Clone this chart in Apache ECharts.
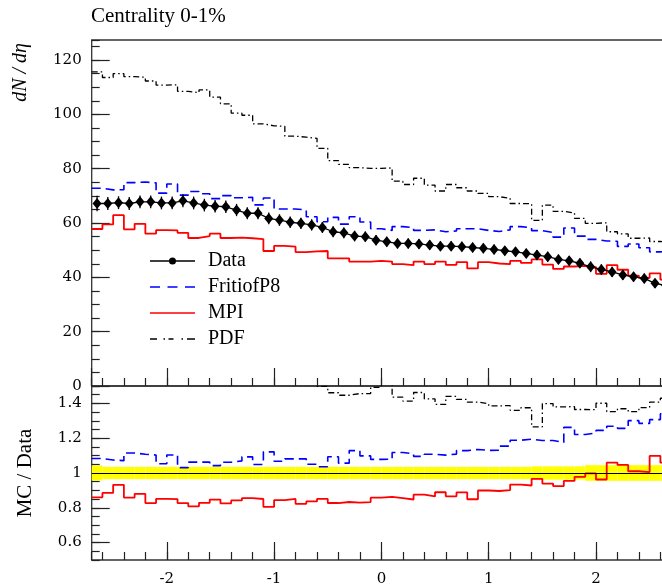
<!DOCTYPE html>
<html><head><meta charset="utf-8">
<script src="https://cdn.jsdelivr.net/npm/echarts@6/dist/echarts.min.js"></script>
<style>html,body{margin:0;padding:0;background:#fff}#c{width:662px;height:586px}</style>
</head><body><div id="c"></div>
<script>
// bin edges in eta (54 bins of width 0.1)
const etaEdges = [-2.7,-2.6,-2.5,-2.4,-2.3,-2.2,-2.1,-2.0,-1.9,-1.8,-1.7,-1.6,-1.5,-1.4,-1.3,-1.2,-1.1,-1.0,-0.9,-0.8,-0.7,-0.6,-0.5,-0.4,-0.3,-0.2,-0.1,0.0,0.1,0.2,0.3,0.4,0.5,0.6,0.7,0.8,0.9,1.0,1.1,1.2,1.3,1.4,1.5,1.6,1.7,1.8,1.9,2.0,2.1,2.2,2.3,2.4,2.5,2.6,2.7];
// measured dN/deta (Data)
const dataVals = [67.2,67.2,67.5,67.2,67.8,67.8,67.4,67.4,68.2,67.4,
  66.6,66.2,66.0,64.8,63.6,63.6,61.7,61.1,60.3,59.9,
  59.3,58.4,56.8,56.4,55.2,55.0,53.7,53.1,52.5,52.5,
  52.3,51.9,51.5,51.5,51.3,51.0,50.7,50.3,49.8,49.4,
  48.8,48.2,47.6,46.6,46.1,45.2,43.9,42.9,42.0,40.9,
  40.2,39.6,37.8,37.0];
// relative uncertainty of data (yellow band)
const dataRelErr = [0.043,0.035,0.035,0.035,0.035,0.035,0.035,0.035,0.035,0.035,
  0.035,0.035,0.035,0.035,0.035,0.035,0.035,0.035,0.035,0.035,
  0.035,0.035,0.035,0.035,0.035,0.035,0.035,0.035,0.035,0.035,
  0.035,0.035,0.035,0.035,0.035,0.035,0.035,0.035,0.035,0.035,
  0.035,0.038,0.038,0.038,0.038,0.038,0.045,0.045,0.045,0.045,
  0.045,0.045,0.045,0.045];
const fritiofP8 = [72.8,72.2,72.3,74.9,75.1,74.8,71.0,74.4,70.3,71.6,
  70.8,69.0,70.1,69.3,69.5,66.7,69.2,65.2,65.2,64.8,
  62.3,60.5,62.1,59.6,62.3,60.4,57.9,57.3,58.7,58.3,
  57.3,57.5,56.8,57.1,57.9,57.9,57.3,56.9,57.5,58.7,
  58.3,57.2,56.5,54.8,58.2,55.2,54.0,53.4,53.3,51.4,
  52.3,50.9,49.4,49.6];
const mpi = [57.8,59.5,62.9,57.7,59.7,56.1,57.4,57.3,56.4,54.5,
  55.2,56.1,54.5,54.6,54.4,54.1,49.7,51.6,51.3,49.3,
  49.6,49.7,47.0,47.0,45.8,45.8,46.1,45.8,44.9,44.5,
  45.8,44.9,45.8,44.6,45.6,43.3,45.6,45.1,44.9,46.1,
  45.3,46.6,44.7,43.1,44.0,44.2,43.8,41.3,44.5,42.8,
  40.6,39.8,41.5,39.2];
const pdf = [115.7,113.6,115.0,113.9,113.7,112.3,110.8,110.9,108.5,108.0,
  109.0,106.4,103.9,100.5,99.7,96.5,95.8,95.6,92.0,91.6,
  91.2,87.5,83.0,81.6,80.4,80.1,80.1,80.3,75.4,74.2,
  76.5,74.0,71.8,74.2,73.0,71.8,70.9,69.7,69.1,67.2,
  67.1,61.0,66.6,64.3,63.7,61.7,59.9,60.1,56.8,56.0,
  54.4,54.5,53.2,52.9];
const legendNames = ['Data','FritiofP8','MPI','PDF'];
const titleText = 'Centrality 0-1%';
const yTitleMain = 'dN / dη';
const yTitleRatio = 'MC / Data';

const centers = dataVals.map((v,i)=> (etaEdges[i]+etaEdges[i+1])/2);
function stepData(vals){ const d = vals.map((v,i)=>[etaEdges[i], v]); d.push([etaEdges[vals.length], vals[vals.length-1]]); return d; }
function ratio(vals){ return vals.map((v,i)=> v/dataVals[i]); }

const SERIF = 'Liberation Serif';
const TICKF = 'DejaVu Serif';
const GL = 91.7, GW = 579.4;
const axCol = '#222';

function xMajor(grid, labels){
  return {gridIndex:grid, type:'value', min:-2.7, max:2.7, minInterval:1, maxInterval:1, position:'bottom',
    axisLine:{show:false, onZero:false}, splitLine:{show:false},
    axisTick:{show:true, inside:true, length:18, lineStyle:{color:axCol, width:1.2}},
    axisLabel:{show:labels, showMinLabel:false, showMaxLabel:false, margin:12, color:'#000', fontFamily:TICKF, fontSize:15}};
}
function xMinor(grid){
  return {gridIndex:grid, type:'value', min:-2.7, max:2.7, minInterval:0.2, maxInterval:0.2, position:'bottom',
    axisLine:{show:false, onZero:false}, splitLine:{show:false},
    axisTick:{show:true, inside:true, length:8, lineStyle:{color:axCol, width:1.2}},
    axisLabel:{show:false}};
}

const option = {
  animation:false,
  backgroundColor:'#fff',
  title:{text:titleText, left:91, top:6, padding:0, textStyle:{fontFamily:SERIF, fontSize:21, fontWeight:'normal', color:'#000'}},
  legend:{orient:'vertical', left:150, top:251, padding:0, itemWidth:45, itemHeight:7, itemGap:6, selectedMode:false, symbolKeepAspect:true,
    textStyle:{fontFamily:SERIF, fontSize:20, color:'#000', padding:[0,0,0,8]},
    data:[
      {name:legendNames[0], icon:'path://M0,2.75h45v1.5h-45z M26,3.5a3.5,3.5 0 1,1 -7,0a3.5,3.5 0 1,1 7,0z', itemStyle:{color:'#000', borderWidth:0}},
      {name:legendNames[1], icon:'path://M0,2.75h10v1.5h-10z M17.5,2.75h10v1.5h-10z M35,2.75h10v1.5h-10z', itemStyle:{color:'#0000ff', borderWidth:0}},
      {name:legendNames[2], icon:'path://M0,2.75h45v1.5h-45z', itemStyle:{color:'#ff0000', borderWidth:0}},
      {name:legendNames[3], icon:'path://M0,2.75h7v1.5h-7z M13.5,2.75h1.5v1.5h-1.5z M18.5,2.75h5v1.5h-5z M31.5,2.75h1.5v1.5h-1.5z M37,2.75h8v1.5h-8z', itemStyle:{color:'#000', borderWidth:0}}
    ]},
  grid:[
    {left:GL, top:40, width:GW, height:346, show:true, borderColor:'#333', borderWidth:1.3, backgroundColor:'transparent', containLabel:false, outerBoundsMode:'none'},
    {left:GL, top:386, width:GW, height:174, show:true, borderColor:'#333', borderWidth:1.3, backgroundColor:'transparent', containLabel:false, outerBoundsMode:'none'}
  ],
  xAxis:[ xMajor(0,false), xMinor(0), xMajor(1,true), xMinor(1) ],
  yAxis:[
    {gridIndex:0, type:'value', min:0, max:127.4, interval:20, position:'left',
      axisLine:{show:false, onZero:false}, splitLine:{show:false},
      axisTick:{show:true, inside:true, length:18, lineStyle:{color:axCol, width:1.2}},
      axisLabel:{showMaxLabel:false, margin:10, color:'#000', fontFamily:TICKF, fontSize:15}},
    {gridIndex:0, type:'value', min:0, max:127.4, interval:5, position:'left',
      axisLine:{show:false, onZero:false}, splitLine:{show:false},
      axisTick:{show:true, inside:true, length:8, lineStyle:{color:axCol, width:1.2}},
      axisLabel:{show:false}},
    {gridIndex:1, type:'value', min:0.5, max:1.5, minInterval:0.2, maxInterval:0.2, position:'left',
      axisLine:{show:false, onZero:false}, splitLine:{show:false},
      axisTick:{show:true, inside:true, length:18, lineStyle:{color:axCol, width:1.2}},
      axisLabel:{showMinLabel:false, showMaxLabel:false, margin:10, color:'#000', fontFamily:TICKF, fontSize:15}},
    {gridIndex:1, type:'value', min:0.5, max:1.5, interval:0.05, position:'left',
      axisLine:{show:false, onZero:false}, splitLine:{show:false},
      axisTick:{show:true, inside:true, length:8, lineStyle:{color:axCol, width:1.2}},
      axisLabel:{show:false}}
  ],
  graphic:[
    {type:'text', x:21, y:43, rotation:Math.PI/2, style:{text:yTitleMain, font:'italic 20px "Liberation Serif"', fill:'#000', align:'right', verticalAlign:'middle'}},
    {type:'text', x:25, y:473, rotation:Math.PI/2, style:{text:yTitleRatio, font:'21px "Liberation Serif"', fill:'#000', align:'center', verticalAlign:'middle'}}
  ],
  series:[
    // ratio panel: data uncertainty band
    {type:'custom', name:'band', xAxisIndex:2, yAxisIndex:2, z:1, silent:true, clip:true,
      encode:{x:[0,2], y:1},
      data: dataRelErr.map((r,i)=>[etaEdges[i], 1, etaEdges[i+1], r]),
      renderItem:function(params, api){
        const r = api.value(3);
        const p1 = api.coord([api.value(0), 1+r]);
        const p2 = api.coord([api.value(2), 1-r]);
        return {type:'rect', shape:{x:p1[0], y:p1[1], width:p2[0]-p1[0], height:p2[1]-p1[1]}, style:{fill:'#ffff00'}};
      }},
    // main panel
    {type:'line', name:'PDF', xAxisIndex:0, yAxisIndex:0, step:'end', symbol:'none', z:3, silent:true,
      data:stepData(pdf), lineStyle:{color:'#000', width:1.3, type:[6,3,1.5,3]}, itemStyle:{color:'#000'}},
    {type:'line', name:'FritiofP8', xAxisIndex:0, yAxisIndex:0, step:'end', symbol:'none', z:3, silent:true,
      data:stepData(fritiofP8), lineStyle:{color:'#0000ff', width:1.6, type:[9,5]}, itemStyle:{color:'#0000ff'}},
    {type:'line', name:'MPI', xAxisIndex:0, yAxisIndex:0, step:'end', symbol:'none', z:3, silent:true,
      data:stepData(mpi), lineStyle:{color:'#ff0000', width:1.8}, itemStyle:{color:'#ff0000'}},
    {type:'custom', name:'Data errors', xAxisIndex:0, yAxisIndex:0, z:4, silent:true,
      data: centers.map((c,i)=>[c, dataVals[i], dataRelErr[i]]),
      renderItem:function(params, api){
        const x = api.value(0), v = api.value(1), r = api.value(2);
        const a = api.coord([x, v*(1-r)]), b = api.coord([x, v*(1+r)]);
        return {type:'line', shape:{x1:a[0], y1:a[1], x2:b[0], y2:b[1]}, style:{stroke:'#000', lineWidth:1.3}};
      }},
    {type:'line', name:'Data', xAxisIndex:0, yAxisIndex:0, z:5, silent:true,
      data: centers.map((c,i)=>[c, dataVals[i]]),
      symbol:'diamond', symbolSize:[9,11], showSymbol:true,
      lineStyle:{color:'#000', width:1.3}, itemStyle:{color:'#000'}},
    // ratio panel
    {type:'line', name:'PDF', xAxisIndex:2, yAxisIndex:2, step:'end', symbol:'none', z:3, silent:true,
      data:stepData(ratio(pdf)), lineStyle:{color:'#000', width:1.3, type:[6,3,1.5,3]}},
    {type:'line', name:'FritiofP8', xAxisIndex:2, yAxisIndex:2, step:'end', symbol:'none', z:3, silent:true,
      data:stepData(ratio(fritiofP8)), lineStyle:{color:'#0000ff', width:1.6, type:[9,5]},
      markLine:{silent:true, symbol:'none', label:{show:false}, animation:false,
        lineStyle:{color:'#000', width:1.2, type:'solid'}, data:[{yAxis:1}]}},
    {type:'line', name:'MPI', xAxisIndex:2, yAxisIndex:2, step:'end', symbol:'none', z:3, silent:true,
      data:stepData(ratio(mpi)), lineStyle:{color:'#ff0000', width:1.8}}
  ]
};
const chart = echarts.init(document.getElementById('c'), null, {renderer:'canvas'});
chart.setOption(option);
</script>
</body></html>
